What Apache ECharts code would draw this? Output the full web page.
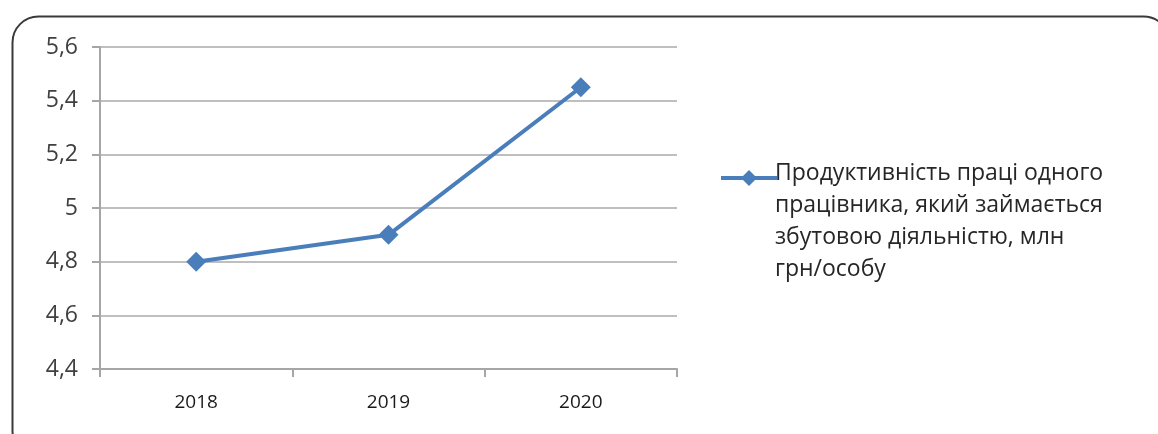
<!DOCTYPE html>
<html><head><meta charset="utf-8">
<script src="https://cdn.jsdelivr.net/npm/echarts@6/dist/echarts.min.js"></script>
<style>html,body{margin:0;padding:0;background:#fff}#c{width:1158px;height:434px}</style>
</head><body><div id="c"></div>
<script>
const categories = ['2018', '2019', '2020'];
const values = [4.8, 4.9, 5.45];
const seriesName = 'Продуктивність праці одного\nпрацівника, який займається\nзбутовою діяльністю, млн\nгрн/особу';
const yMin = 4.4, yMax = 5.6, yStep = 0.2;

const FONT = '"Open Sans", sans-serif';
const chart = echarts.init(document.getElementById('c'), null, {renderer: 'canvas'});
chart.setOption({
  animation: false,
  backgroundColor: '#fff',
  graphic: [{
    type: 'rect', left: 10, top: 14,
    shape: {width: 1157, height: 440, r: 26},
    style: {fill: 'none', stroke: '#3a3a3a', lineWidth: 2},
    z: 100
  }, {
    type: 'text', x: 775, y: 157,
    style: {text: seriesName, fontFamily: FONT, fontSize: 23, lineHeight: 32,
      fill: '#262626', verticalAlign: 'top', align: 'left'}
  }],
  grid: {left: 100, top: 47, width: 577, height: 322, containLabel: false},
  legend: {
    left: 714, top: 163,
    itemWidth: 56, itemHeight: 20,
    formatter: () => '',
    textStyle: {fontSize: 1},
    lineStyle: {width: 4, color: '#4a7ebb'},
    itemStyle: {color: '#4a7ebb'},
    data: [seriesName]
  },
  xAxis: {
    type: 'category', data: categories, boundaryGap: true,
    axisLine: {lineStyle: {color: '#a6a6a6', width: 2}},
    axisTick: {show: true, length: 8, lineStyle: {color: '#a6a6a6', width: 2}},
    axisLabel: {fontFamily: FONT, fontSize: 19, color: '#1a1a1a', margin: 24}
  },
  yAxis: {
    type: 'value', min: yMin, max: yMax, interval: yStep,
    axisLine: {show: true, lineStyle: {color: '#a6a6a6', width: 2}},
    axisTick: {show: true, length: 8, lineStyle: {color: '#a6a6a6', width: 2}},
    splitLine: {lineStyle: {color: '#bfbfbf', width: 2}},
    axisLabel: {fontFamily: FONT, fontSize: 23, color: '#404040', margin: 22,
      formatter: v => String(Math.round(v * 10) / 10).replace('.', ',')}
  },
  series: [{
    name: seriesName, type: 'line', data: values,
    symbol: 'diamond', symbolSize: 20,
    lineStyle: {color: '#4a7ebb', width: 4},
    itemStyle: {color: '#4a7ebb'}
  }]
});
</script></body></html>
